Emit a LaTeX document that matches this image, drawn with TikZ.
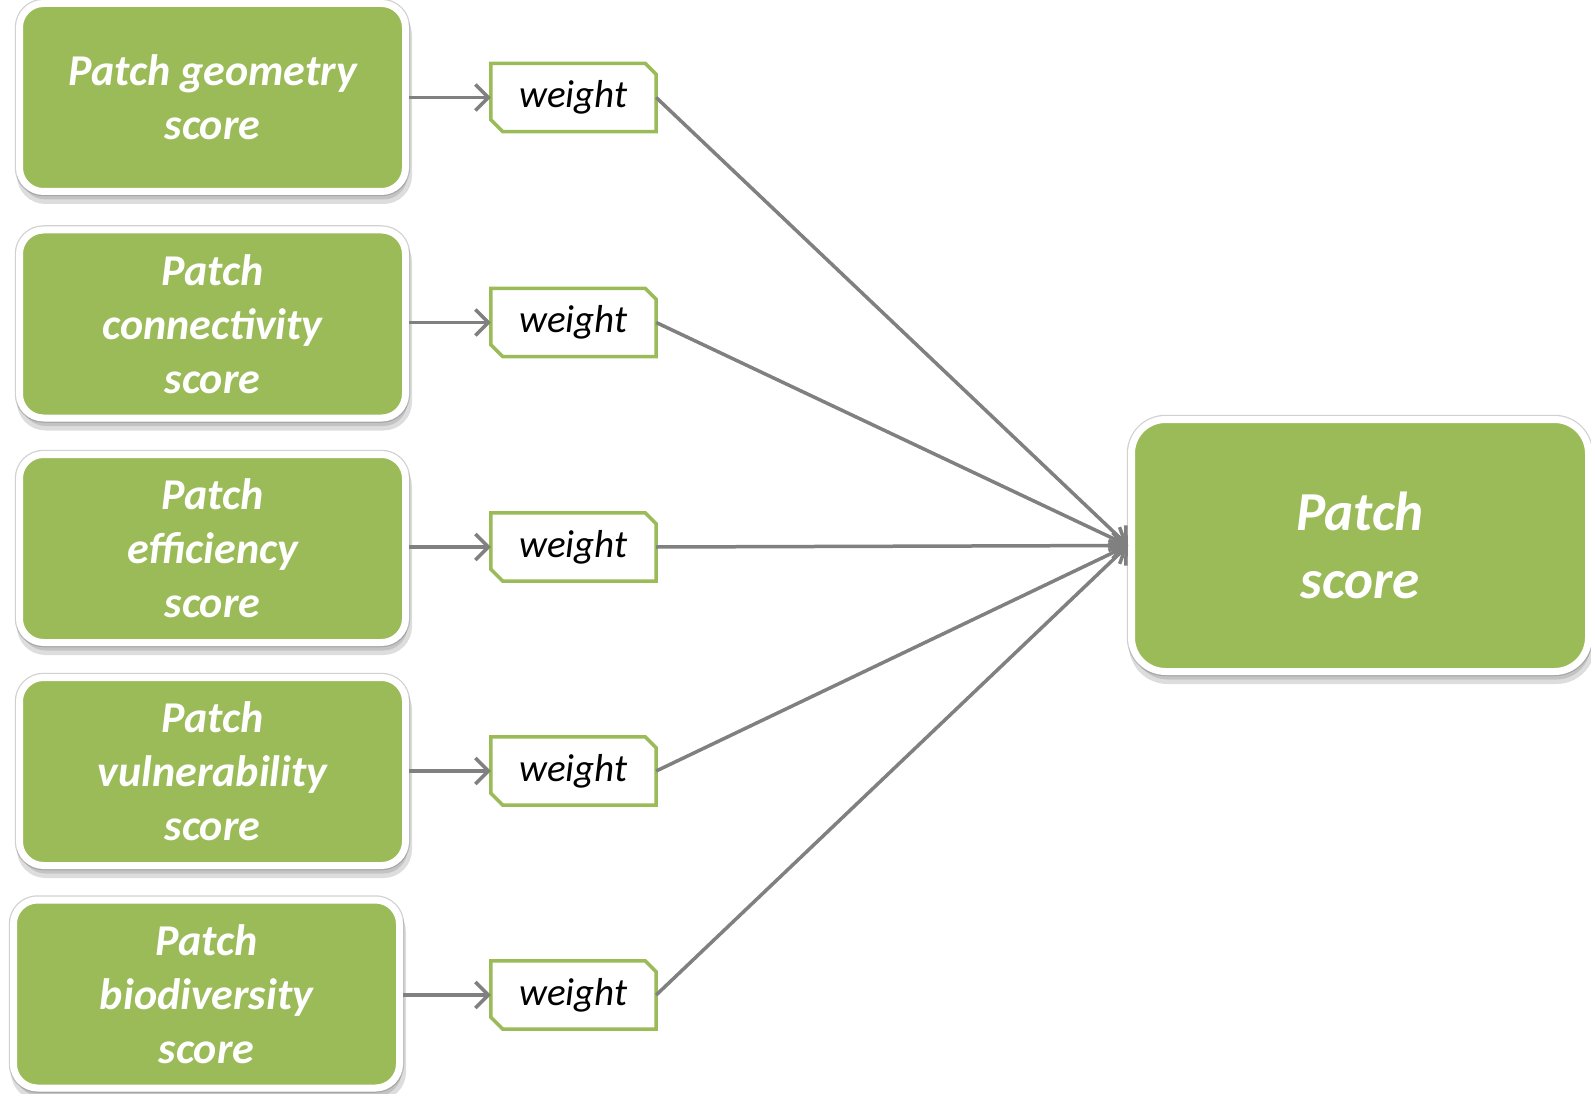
\documentclass[tikz,border=0pt]{standalone}
\usepackage{fontspec}
\setmainfont{Carlito}
\usetikzlibrary{arrows.meta,shadows}
\definecolor{boxgreen}{RGB}{155,187,89}
\definecolor{linegray}{RGB}{128,128,128}
\tikzset{
  scorebox/.style={rectangle, rounded corners=24pt, fill=boxgreen, draw=white, line width=7pt,
    minimum width=386pt, minimum height=188pt, text=white, align=center,
    font=\fontsize{44}{54}\selectfont\bfseries\itshape, inner sep=0pt,
    preaction={draw=black!18, line width=9.5pt},
    drop shadow={shadow xshift=2pt, shadow yshift=-8pt, opacity=0.22, fill=black!60, draw=black!60, line width=9pt}},
  totalbox/.style={scorebox, rounded corners=34pt, minimum width=457pt, minimum height=252pt,
    font=\fontsize{55}{68}\selectfont\bfseries\itshape},
  wnode/.style={rectangle, minimum width=165pt, minimum height=68pt, inner sep=0pt,
    font=\fontsize{39}{46}\selectfont\itshape, text=black},
  wline/.style={draw=boxgreen, line width=3.5pt, fill=white, line join=miter},
  conn/.style={draw=linegray, line width=3.5pt, -{Straight Barb[length=13pt,width=26pt,line width=3.5pt]}}
}
\begin{document}
\begin{tikzpicture}[x=1pt,y=-1pt]
\useasboundingbox (0,0) rectangle (1591,1094);
\node[scorebox] (g1) at (212.5,97.5) {Patch geometry\\score};
\node[scorebox] (g2) at (212.5,324) {Patch\\connectivity\\score};
\node[scorebox] (g3) at (212.5,548.5) {Patch\\efficiency\\score};
\node[scorebox] (g4) at (212.5,771.5) {Patch\\vulnerability\\score};
\node[scorebox] (g5) at (206.5,994) {Patch\\biodiversity\\score};
\node[totalbox] (ps) at (1360,545.5) {Patch\\score};
\foreach \i/\y in {1/97.5,2/322.5,3/547,4/771,5/995}{
  \node[wnode] (w\i) at (573.5,\y) {};
  \path[wline] (w\i.north west) -- ([xshift=-11pt]w\i.north east) -- ([yshift=-11pt]w\i.north east)
     -- (w\i.south east) -- ([xshift=12pt]w\i.south west) -- ([yshift=12pt]w\i.south west) -- cycle;
  \node[wnode] at (w\i.center) {weight};
  \draw[conn] (g\i.east |- w\i.west) -- (w\i.west);
  \draw[conn] (w\i.east) -- (ps.west);
}
\end{tikzpicture}
\end{document}
